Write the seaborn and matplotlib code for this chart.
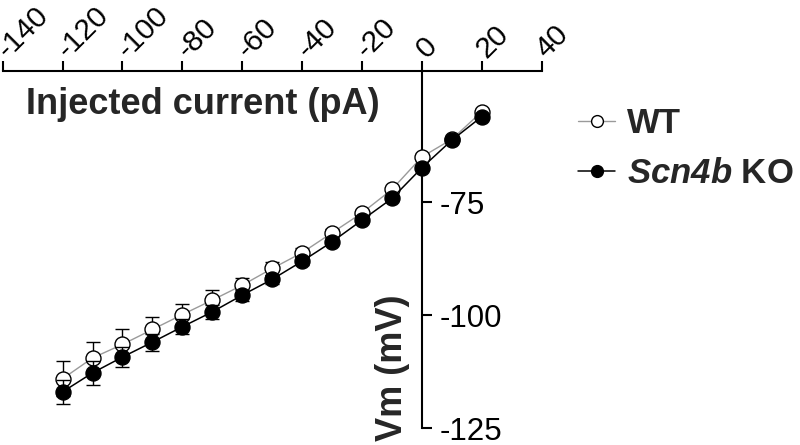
import matplotlib
matplotlib.use("Agg")
import matplotlib.pyplot as plt
import matplotlib.transforms as mtransforms
import seaborn as sns
import pandas as pd
from matplotlib.lines import Line2D

# ---- data ----
current = [-120, -110, -100, -90, -80, -70, -60, -50, -40, -30, -20, -10, 0, 10, 20]
wt_vm = [-114.1, -109.5, -106.5, -103.2, -99.9, -96.7, -93.4, -89.7, -86.2,
         -81.8, -77.4, -72.2, -65.0, -61.1, -55.0]
wt_sem = [3.9, 3.5, 3.3, 2.8, 2.4, 2.2, 1.7, 1.5, 1.0, 0.8, 0.7, 0.6, 0.6, 0.5, 0.5]
ko_vm = [-117.0, -112.8, -109.3, -106.0, -102.6, -99.3, -95.6, -92.1, -88.1,
         -83.8, -79.0, -74.2, -67.4, -61.3, -56.1]
ko_sem = [2.6, 2.6, 2.2, 1.9, 1.7, 1.5, 1.2, 1.0, 0.9, 0.8, 0.7, 0.6, 0.6, 0.5, 0.5]
x_ticks = [-140, -120, -100, -80, -60, -40, -20, 0, 20, 40]
y_ticks = [-75, -100, -125]

sns.set_theme(style="white")
plt.rcParams['font.family'] = ['Liberation Sans', 'DejaVu Sans']
plt.rcParams['mathtext.fontset'] = 'custom'
plt.rcParams['mathtext.bfit'] = 'Liberation Sans:italic:bold'
plt.rcParams['mathtext.rm'] = 'Liberation Sans:bold'

df_wt = pd.DataFrame({"current": current, "vm": wt_vm})
df_ko = pd.DataFrame({"current": current, "vm": ko_vm})

fig = plt.figure(figsize=(8.0, 4.45), dpi=100)
ax = fig.add_axes([0.003375, 1 - 428 / 445, 0.67375, (428 - 71) / 445])

wt_grey = "#9a9a9a"
ms = 10.8

ax.errorbar(current, wt_vm, yerr=wt_sem, fmt="none", ecolor="black",
            elinewidth=1.0, capsize=5, capthick=1.0, zorder=2)
sns.lineplot(data=df_wt, x="current", y="vm", ax=ax, color=wt_grey, lw=1.0,
             marker="o", markersize=ms, markerfacecolor="white",
             markeredgecolor="black", markeredgewidth=1.0, zorder=3)
ax.errorbar(current, ko_vm, yerr=ko_sem, fmt="none", ecolor="black",
            elinewidth=1.0, capsize=5, capthick=1.0, zorder=4)
sns.lineplot(data=df_ko, x="current", y="vm", ax=ax, color="black", lw=1.1,
             marker="o", markersize=ms, markerfacecolor="black",
             markeredgecolor="black", markeredgewidth=1.0, zorder=5)

ax.set_xlim(-140, 40)
ax.set_ylim(-125, -46)

# spines
ax.spines['bottom'].set_visible(False)
ax.spines['left'].set_visible(False)
ax.spines['right'].set_position(('data', 0))
for s in ('top', 'right'):
    ax.spines[s].set_linewidth(1.5)
    ax.spines[s].set_color('black')

ax.xaxis.tick_top()
ax.set_xticks(x_ticks)
ax.set_xticklabels([str(v) for v in x_ticks], rotation=45, ha='left',
                   va='baseline', rotation_mode='anchor')
ax.tick_params(axis='x', which='both', direction='out', length=7, width=1.5,
               colors='black', labelsize=21.5, pad=1.5, top=True, bottom=False)
shift = mtransforms.ScaledTranslation(5 / 100, 0, fig.dpi_scale_trans)
for lab in ax.get_xticklabels():
    lab.set_transform(lab.get_transform() + shift)

ax.yaxis.tick_right()
ax.set_yticks(y_ticks)
ax.set_yticklabels([str(v) for v in y_ticks])
ax.tick_params(axis='y', which='both', direction='out', length=7, width=1.5,
               colors='black', labelsize=22.5, pad=6, right=True, left=False)

ax.xaxis.set_label_position('top')
ax.set_xlabel("Injected current (pA)", fontsize=26, fontweight='bold')
ax.xaxis.set_label_coords(0.3707, 0.905)
ax.xaxis.label.set_va('center')

ax.set_ylabel("Vm (mV)", fontsize=26, fontweight='bold')
ax.yaxis.set_label_position('left')
ax.yaxis.set_label_coords(0.7223, 0.17)
ax.yaxis.label.set_va('center')
ax.yaxis.label.set_ha('center')

handles = [
    Line2D([], [], color=wt_grey, lw=1.0, marker='o', markersize=8.5,
           markerfacecolor='white', markeredgecolor='black', markeredgewidth=1.0),
    Line2D([], [], color='black', lw=1.1, marker='o', markersize=8.5,
           markerfacecolor='black', markeredgecolor='black'),
]
labels = ["WT", r"$\mathbfit{Scn4b}$ KO"]
fig.legend(handles, labels, loc='upper left', bbox_to_anchor=(578 / 800, 1 - 107 / 445),
           frameon=False, borderpad=0, borderaxespad=0, handlelength=1.07,
           handletextpad=0.35, labelspacing=0.5,
           prop={'weight': 'bold', 'size': 25})

fig.savefig("out.png", dpi=100)
